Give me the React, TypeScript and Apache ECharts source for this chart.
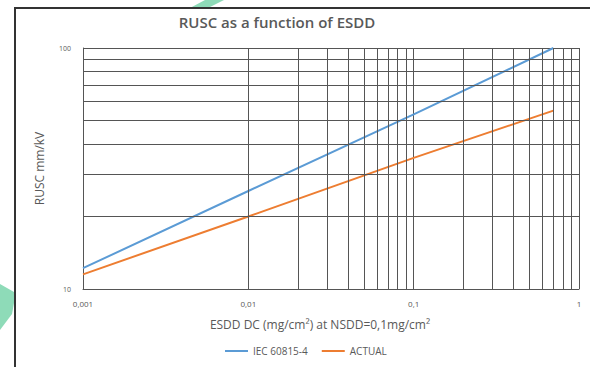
import React, { useEffect, useRef } from "react";
import * as echarts from "echarts";

const esdd = [0.001, 0.01, 0.1, 0.7];
const iecValues = [12.2, 25.5, 53, 100];
const actualValues = [11.5, 20, 35, 55];
const xMinorGrid = [
  0.002, 0.003, 0.004, 0.005, 0.006, 0.007, 0.008, 0.009,
  0.02, 0.03, 0.04, 0.05, 0.06, 0.07, 0.08, 0.09,
  0.2, 0.3, 0.4, 0.5, 0.6, 0.7, 0.8, 0.9,
];
const yMinorGrid = [20, 30, 40, 50, 60, 70, 80, 90];
const seriesNames = ["IEC 60815-4", "ACTUAL"];

const gridColor = "#555555";
const textColor = "#595959";
const font = "'Open Sans', 'Noto Sans', sans-serif";

export default function App() {
  const ref = useRef<HTMLDivElement>(null);
  useEffect(() => {
    document.body.style.margin = "0";
    if (!ref.current) return;
    const chart = echarts.init(ref.current, undefined, { renderer: "svg" });
    const fmt = (v: number) => String(v).replace(".", ",");
    const gridMark = [
      ...xMinorGrid.map((v) => ({ xAxis: v })),
      ...yMinorGrid.map((v) => ({ yAxis: v })),
    ];
    chart.setOption({
      animation: false,
      backgroundColor: "#ffffff",
      title: {
        text: "RUSC as a function of ESDD",
        left: 272,
        textAlign: "center",
        top: 9,
        textStyle: { color: textColor, fontSize: 15, fontWeight: 600, fontFamily: font },
      },
      grid: { left: 83, right: 11, top: 48, bottom: 78 },
      legend: {
        data: seriesNames,
        left: 220,
        top: 341,
        icon: "rect",
        itemWidth: 23,
        itemHeight: 2,
        itemGap: 14,
        textStyle: { color: textColor, fontSize: 10, fontFamily: font },
      },
      xAxis: {
        type: "log",
        logBase: 10,
        min: 0.001,
        max: 1,
        name: "ESDD DC (mg/cm²) at NSDD=0,1mg/cm²",
        nameLocation: "middle",
        nameGap: 29,
        nameTextStyle: { color: textColor, fontSize: 12, fontFamily: font, padding: [0, 22, 0, 0] },
        axisLine: { show: true, lineStyle: { color: gridColor, width: 1 } },
        axisTick: { show: false },
        axisLabel: { color: textColor, fontSize: 8, fontFamily: font, margin: 10, formatter: fmt },
        splitLine: { show: true, lineStyle: { color: gridColor, width: 1 } },
      },
      yAxis: {
        type: "log",
        logBase: 10,
        min: 10,
        max: 100,
        name: "RUSC mm/kV",
        nameLocation: "middle",
        nameGap: 38,
        nameTextStyle: { color: textColor, fontSize: 12, fontFamily: font },
        axisLine: { show: true, lineStyle: { color: gridColor, width: 1 } },
        axisTick: { show: false },
        axisLabel: { color: textColor, fontSize: 7, fontFamily: font, margin: 12, formatter: fmt },
        splitLine: { show: true, lineStyle: { color: gridColor, width: 1 } },
      },
      series: [
        {
          name: "grid",
          type: "line",
          data: [[0.001, 10]],
          showSymbol: false,
          silent: true,
          z: 1,
          lineStyle: { width: 0 },
          markLine: {
            silent: true,
            symbol: ["none", "none"],
            label: { show: false },
            lineStyle: { color: gridColor, width: 1, type: "solid" },
            emphasis: { disabled: true },
            data: gridMark,
          },
        },
        {
          name: seriesNames[0],
          type: "line",
          data: esdd.map((x, i) => [x, iecValues[i]]),
          showSymbol: false,
          z: 3,
          lineStyle: { color: "#5b9bd5", width: 2 },
          itemStyle: { color: "#5b9bd5" },
        },
        {
          name: seriesNames[1],
          type: "line",
          data: esdd.map((x, i) => [x, actualValues[i]]),
          showSymbol: false,
          z: 3,
          lineStyle: { color: "#ed7d31", width: 2 },
          itemStyle: { color: "#ed7d31" },
        },
      ],
      graphic: [
        {
          type: "polygon",
          shape: { points: [[205, 0], [224, 0], [208, 8], [190, 8]] },
          style: { fill: "#8edbb8" },
          silent: true,
        },
        {
          type: "polygon",
          shape: { points: [[0, 284], [14, 292], [14, 303], [12, 314], [0, 330]] },
          style: { fill: "#8edbb8" },
          silent: true,
        },
        {
          type: "rect",
          shape: { x: 15, y: 8, width: 600, height: 400 },
          style: { fill: "none", stroke: "#333333", lineWidth: 2 },
          silent: true,
        },
      ],
    });
    return () => chart.dispose();
  }, []);
  return <div ref={ref} style={{ width: 590, height: 367 }} />;
}
